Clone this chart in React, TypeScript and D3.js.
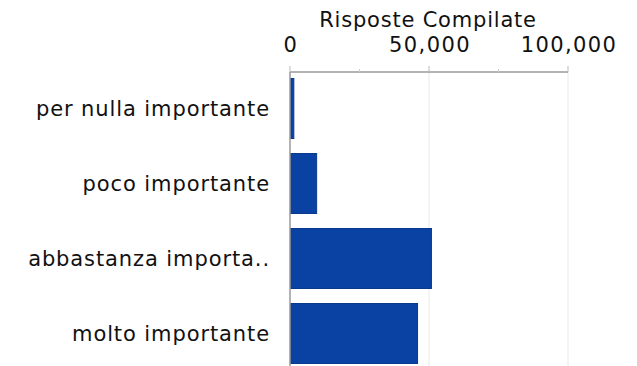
import React, { useEffect, useRef } from "react";
import * as d3 from "d3";

const categories = [
  "per nulla importante",
  "poco importante",
  "abbastanza importa..",
  "molto importante",
];
const responses = [1200, 9400, 50700, 45700];
const majorTicks = [0, 50000, 100000];
const minorTicks = [25000, 75000];
const axisTitle = "Risposte Compilate";

const width = 637;
const height = 366;
const font = "'Lucida Grande', 'DejaVu Sans', Verdana, sans-serif";

const App = () => {
  const ref = useRef<SVGSVGElement>(null);

  useEffect(() => {
    const svg = d3.select(ref.current);
    svg.selectAll("*").remove();

    const x = d3.scaleLinear().domain([0, 100000]).range([290, 568]);
    const y = d3
      .scaleBand<string>()
      .domain(categories)
      .range([71, 371])
      .paddingInner(0.2)
      .paddingOuter(0.1);

    // gridlines
    svg
      .append("g")
      .selectAll("line")
      .data(majorTicks.slice(1))
      .join("line")
      .attr("x1", (d) => x(d))
      .attr("x2", (d) => x(d))
      .attr("y1", 72)
      .attr("y2", height)
      .attr("stroke", "#e8e8e8")
      .attr("stroke-width", 1);

    // bars
    svg
      .append("g")
      .selectAll("rect")
      .data(responses)
      .join("rect")
      .attr("x", x(0) + 0.5)
      .attr("y", (_, i) => y(categories[i])!)
      .attr("width", (d) => x(d) - x(0))
      .attr("height", y.bandwidth())
      .attr("fill", "#0a42a3")
      .attr("stroke", "#0a3a8e")
      .attr("stroke-width", 1);

    // top axis
    const ax = svg.append("g");
    ax.append("line")
      .attr("x1", x(0))
      .attr("x2", x(100000))
      .attr("y1", 72)
      .attr("y2", 72)
      .attr("stroke", "#9a9a9a")
      .attr("stroke-width", 1.5);
    ax.selectAll("line.major")
      .data(majorTicks)
      .join("line")
      .attr("class", "major")
      .attr("x1", (d) => x(d))
      .attr("x2", (d) => x(d))
      .attr("y1", 66)
      .attr("y2", 72)
      .attr("stroke", "#bbb");
    ax.selectAll("line.minor")
      .data(minorTicks)
      .join("line")
      .attr("class", "minor")
      .attr("x1", (d) => x(d))
      .attr("x2", (d) => x(d))
      .attr("y1", 69)
      .attr("y2", 72)
      .attr("stroke", "#ccc");
    ax.selectAll("text")
      .data(majorTicks)
      .join("text")
      .attr("x", (d) => x(d) + 1)
      .attr("y", 52)
      .attr("text-anchor", "middle")
      .attr("font-family", font)
      .attr("font-size", 21)
      .attr("letter-spacing", 1.4)
      .attr("fill", "#111")
      .text((d) => d3.format(",")(d));

    svg
      .append("text")
      .attr("x", 428)
      .attr("y", 27)
      .attr("text-anchor", "middle")
      .attr("font-family", font)
      .attr("font-size", 21)
      .attr("letter-spacing", 0.8)
      .attr("fill", "#111")
      .text(axisTitle);

    // left axis line
    svg
      .append("line")
      .attr("x1", x(0))
      .attr("x2", x(0))
      .attr("y1", 72)
      .attr("y2", height)
      .attr("stroke", "#9a9a9a")
      .attr("stroke-width", 1.5);

    // category labels
    svg
      .append("g")
      .selectAll("text")
      .data(categories)
      .join("text")
      .attr("x", 270)
      .attr("y", (d) => y(d)! + y.bandwidth() / 2)
      .attr("dy", "0.35em")
      .attr("text-anchor", "end")
      .attr("font-family", font)
      .attr("font-size", 21)
      .attr("letter-spacing", 0.9)
      .attr("fill", "#111")
      .text((d) => d);
  }, []);

  return (
    <svg
      ref={ref}
      width={width}
      height={height}
      style={{ position: "absolute", left: 0, top: 0, background: "#fff" }}
    />
  );
};

export default App;
